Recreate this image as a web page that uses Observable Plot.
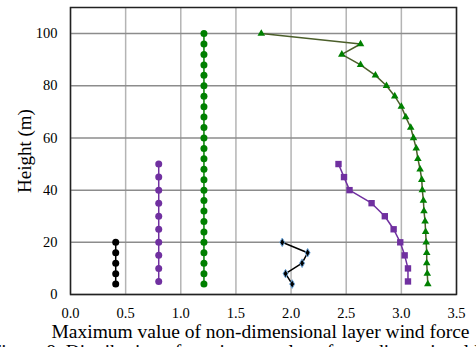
<!DOCTYPE html>
<html>
<head>
<meta charset="utf-8">
<script src="https://cdn.jsdelivr.net/npm/d3@7"></script>
<script src="https://cdn.jsdelivr.net/npm/@observablehq/plot@0.6"></script>
<style>
  html, body { margin: 0; padding: 0; background: #fff; overflow: hidden; }
  #chart { width: 476px; height: 347px; overflow: hidden; }
  #chart svg text { font-family: "Liberation Serif", "Times New Roman", serif !important; }
</style>
</head>
<body>
<div id="chart"></div>
<script>
// Circles (black)
const blackCircX = [0.41, 0.41, 0.41, 0.41, 0.41];
const blackCircY = [4, 8, 12, 16, 20];
// Circles (purple)
const purpleCircX = [0.80, 0.80, 0.80, 0.80, 0.80, 0.80, 0.80, 0.80, 0.80, 0.80];
const purpleCircY = [5, 10, 15, 20, 25, 30, 35, 40, 45, 50];
// Circles (green)
const greenCircX = [1.21, 1.21, 1.21, 1.21, 1.21, 1.21, 1.21, 1.21, 1.21, 1.21, 1.21, 1.21, 1.21,
                    1.21, 1.21, 1.21, 1.21, 1.21, 1.21, 1.21, 1.21, 1.21, 1.21, 1.21, 1.21];
const greenCircY = [4, 8, 12, 16, 20, 24, 28, 32, 36, 40, 44, 48, 52, 56, 60, 64, 68, 72, 76, 80, 84, 88, 92, 96, 100];
// Diamonds (black with blue edge)
const diamondX = [2.01, 1.95, 2.10, 2.15, 1.92];
const diamondY = [4, 8, 12, 16, 20];
// Squares (purple)
const squareX = [3.06, 3.06, 3.03, 2.99, 2.93, 2.85, 2.73, 2.53, 2.48, 2.43];
const squareY = [5, 10, 15, 20, 25, 30, 35, 40, 45, 50];
// Triangles (green)
const triX = [3.24, 3.235, 3.23, 3.23, 3.225, 3.22, 3.215, 3.205, 3.20, 3.19, 3.185, 3.17, 3.15,
              3.135, 3.11, 3.085, 3.04, 3.00, 2.94, 2.865, 2.765, 2.63, 2.46, 2.63, 1.73];
const triY = [4, 8, 12, 16, 20, 24, 28, 32, 36, 40, 44, 48, 52, 56, 60, 64, 68, 72, 76, 80, 84, 88, 92, 96, 100];

const xTicks = [0, 0.5, 1.0, 1.5, 2.0, 2.5, 3.0, 3.5];
const yTicks = [0, 20, 40, 60, 80, 100];
const xLabel = "Maximum value of non-dimensional layer wind force";
const yLabel = "Height (m)";
const caption = "Figure 8. Distribution of maximum value of non-dimensional layer wind force";

const toRows = (xs, ys) => xs.map((x, i) => ({x, y: ys[i]}));
const blackCirc = toRows(blackCircX, blackCircY);
const purpleCirc = toRows(purpleCircX, purpleCircY);
const greenCirc = toRows(greenCircX, greenCircY);
const diamonds = toRows(diamondX, diamondY);
const squares = toRows(squareX, squareY);
const tris = toRows(triX, triY);

const font = "Liberation Serif, Times New Roman, serif";

const chart = Plot.plot({
  width: 476,
  height: 347,
  marginLeft: 70,
  marginRight: 20,
  marginTop: 7,
  marginBottom: 53,
  style: {fontFamily: font, fontSize: "14px", color: "#000", background: "#fff"},
  x: {domain: [0, 3.5], ticks: xTicks, tickFormat: d3.format(".1f"), label: null},
  y: {domain: [0, 110], ticks: yTicks, label: null},
  marks: [
    Plot.gridX(xTicks, {stroke: "#b4b4b4", strokeOpacity: 1, strokeWidth: 1.5}),
    Plot.gridY(yTicks, {stroke: "#8c8c8c", strokeOpacity: 1, strokeWidth: 1.5}),
    Plot.axisX(xTicks, {tickSize: 0, tickPadding: 13, tickFormat: d3.format(".1f"), fontSize: 14.5, fill: "#000", label: null}),
    Plot.axisY(yTicks, {tickSize: 0, tickPadding: 13, fontSize: 14.5, fill: "#000", label: null}),
    Plot.frame({stroke: "#222", strokeWidth: 1.5}),
    // circle series
    Plot.line(blackCirc, {x: "x", y: "y", stroke: "#000", strokeWidth: 1.5}),
    Plot.dot(blackCirc, {x: "x", y: "y", r: 3.5, fill: "#000"}),
    Plot.line(purpleCirc, {x: "x", y: "y", stroke: "#7030a0", strokeWidth: 1.5}),
    Plot.dot(purpleCirc, {x: "x", y: "y", r: 3.5, fill: "#7030a0"}),
    Plot.line(greenCirc, {x: "x", y: "y", stroke: "#008000", strokeWidth: 1.5}),
    Plot.dot(greenCirc, {x: "x", y: "y", r: 3.5, fill: "#008000"}),
    // diamonds
    Plot.line(diamonds, {x: "x", y: "y", stroke: "#000", strokeWidth: 1.5}),
    Plot.dot(diamonds, {x: "x", y: "y", symbol: "diamond", r: 2.6, fill: "#000", stroke: "#6fa8dc", strokeWidth: 1}),
    // squares
    Plot.line(squares, {x: "x", y: "y", stroke: "#7030a0", strokeWidth: 1.5}),
    Plot.dot(squares, {x: "x", y: "y", symbol: "square", r: 3.6, fill: "#7030a0"}),
    // triangles
    Plot.line(tris, {x: "x", y: "y", stroke: "#4b5e2a", strokeWidth: 1.5}),
    Plot.dot(tris, {x: "x", y: "y", symbol: "triangle", r: 2.8, fill: "#008000"}),
    // labels
    Plot.text([xLabel], {frameAnchor: "bottom", lineAnchor: "middle", textAnchor: "middle", dy: 37, dx: -3, fontSize: 19.5, fill: "#000"}),
    Plot.text([yLabel], {frameAnchor: "left", lineAnchor: "middle", textAnchor: "middle", dx: -46, rotate: -90, fontSize: 19, fill: "#000"}),
    Plot.text([caption], {frameAnchor: "bottom-left", lineAnchor: "middle", textAnchor: "start", dx: -80, dy: 57, fontSize: 19.5, fill: "#000"})
  ]
});
document.getElementById("chart").appendChild(chart);
</script>
</body>
</html>
